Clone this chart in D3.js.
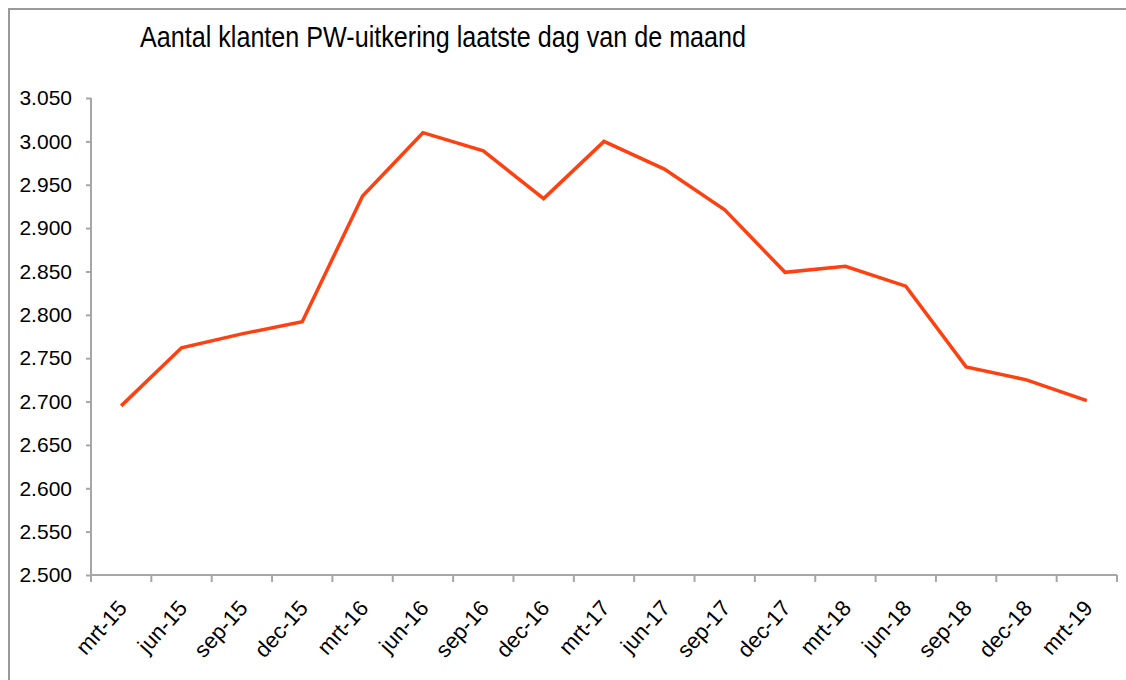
<!DOCTYPE html>
<html>
<head>
<meta charset="utf-8">
<script src="https://cdn.jsdelivr.net/npm/d3@7"></script>
<style>
  html, body { margin: 0; padding: 0; background: #fff; }
  svg { display: block; }
</style>
</head>
<body>
<svg id="chart" width="1126" height="680"></svg>
<script>
// Quarter-end labels (x axis)
const categories = ["mrt-15","jun-15","sep-15","dec-15","mrt-16","jun-16","sep-16","dec-16",
  "mrt-17","jun-17","sep-17","dec-17","mrt-18","jun-18","sep-18","dec-18","mrt-19"];
// Number of clients with a PW benefit on the last day of the month
const clients = [2695, 2762, 2778, 2792, 2937, 3010, 2989, 2934,
  3000, 2968, 2921, 2849, 2856, 2833, 2740, 2725, 2701];
// Y axis tick values
const yTicks = [2500, 2550, 2600, 2650, 2700, 2750, 2800, 2850, 2900, 2950, 3000, 3050];
const title = "Aantal klanten PW-uitkering laatste dag van de maand";

const svg = d3.select("#chart");
const axisColor = "#a6a6a6";
const font = "'Liberation Sans', Arial, sans-serif";

// Outer frame
svg.append("rect")
  .attr("x", 9).attr("y", 9).attr("width", 1140).attr("height", 700)
  .attr("fill", "none").attr("stroke", "#9a9a9a").attr("stroke-width", 2);

const plotLeft = 91, plotRight = 1117, plotTop = 98, plotBottom = 575;

const x = d3.scaleBand().domain(categories).range([plotLeft, plotRight]);
const y = d3.scaleLinear().domain([2500, 3050]).range([plotBottom, plotTop]);

// Title
svg.append("text")
  .attr("x", 140).attr("y", 47)
  .attr("font-family", font).attr("font-size", 30)
  .attr("textLength", 606).attr("lengthAdjust", "spacingAndGlyphs")
  .attr("fill", "#000")
  .text(title);

// Y axis
const yAxis = svg.append("g")
  .attr("transform", `translate(${plotLeft},0)`)
  .call(d3.axisLeft(y).tickValues(yTicks).tickSize(5).tickPadding(14)
    .tickFormat(d => d3.format(",")(d).replace(",", ".")));
yAxis.select(".domain").attr("stroke", axisColor).attr("stroke-width", 2)
  .attr("d", `M0,${plotTop}V${plotBottom}`);
yAxis.selectAll(".tick line").attr("stroke", axisColor).attr("stroke-width", 2);
yAxis.selectAll(".tick text")
  .attr("font-family", font).attr("font-size", 21).attr("fill", "#000");

// X axis with ticks on band edges
const xAxis = svg.append("g").attr("transform", `translate(0,${plotBottom})`);
xAxis.append("line")
  .attr("x1", plotLeft).attr("x2", plotRight).attr("y1", 0).attr("y2", 0)
  .attr("stroke", axisColor).attr("stroke-width", 2);
const edges = categories.map(c => x(c)).concat([plotRight]);
xAxis.selectAll("line.tick").data(edges).join("line")
  .attr("class", "tick")
  .attr("x1", d => d).attr("x2", d => d).attr("y1", 0).attr("y2", 7)
  .attr("stroke", axisColor).attr("stroke-width", 2);
xAxis.selectAll("text.lbl").data(categories).join("text")
  .attr("class", "lbl")
  .attr("transform", d => `translate(${x(d) + x.bandwidth() / 2 + 7},${34}) rotate(-48)`)
  .attr("text-anchor", "end")
  .attr("font-family", font).attr("font-size", 22).attr("fill", "#000")
  .text(d => d);

// Series line
const line = d3.line()
  .x((d, i) => x(categories[i]) + x.bandwidth() / 2)
  .y(d => y(d));
svg.append("path")
  .datum(clients)
  .attr("d", line)
  .attr("fill", "none")
  .attr("stroke", "#ff4010")
  .attr("stroke-width", 3.5)
  .attr("stroke-linejoin", "miter");
</script>
</body>
</html>
